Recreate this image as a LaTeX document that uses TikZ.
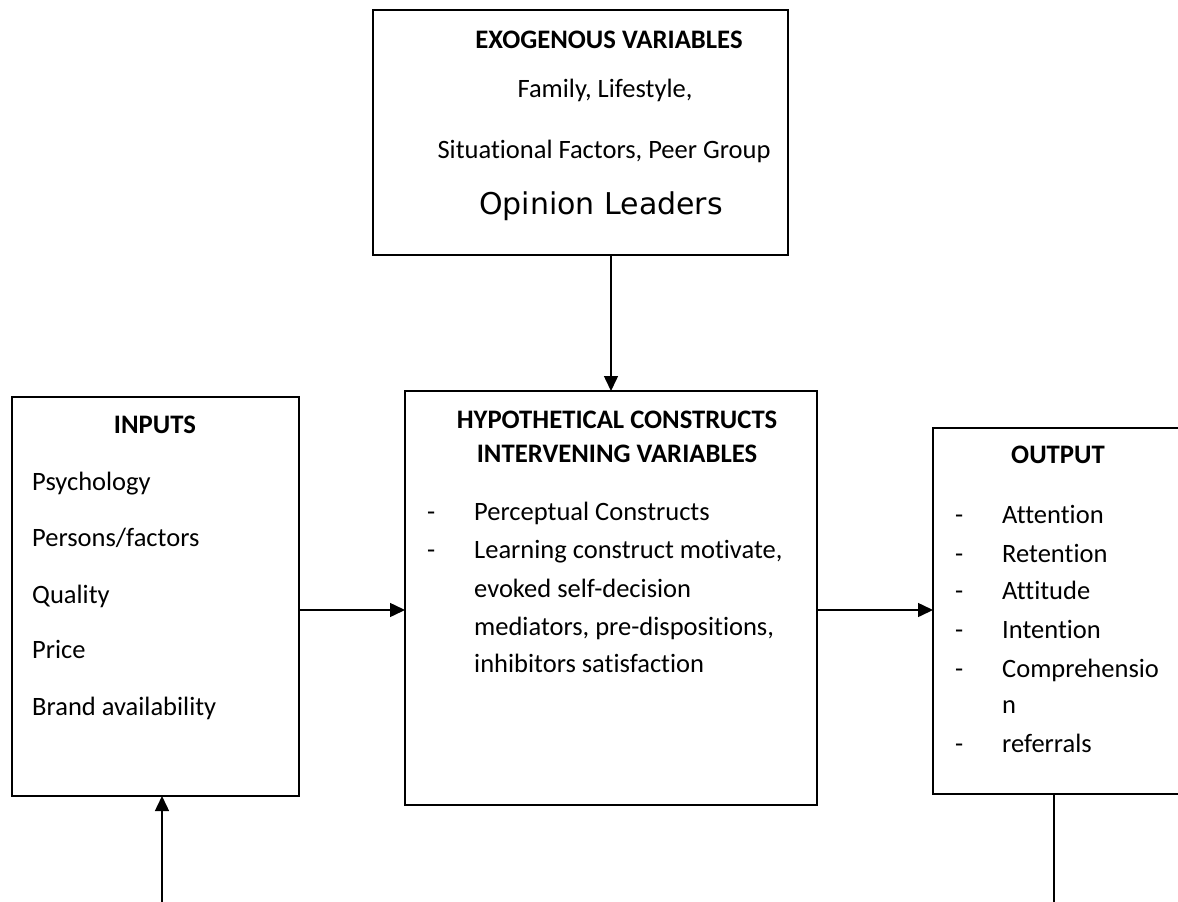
\documentclass[tikz,border=0pt]{standalone}
\usepackage{fontspec}
\setmainfont[Ligatures=NoCommon]{Carlito}
\newfontfamily\tahomafont{DejaVu Sans}
\usetikzlibrary{arrows.meta}
\begin{document}
\begin{tikzpicture}[x=1pt,y=-1pt,
  box/.style={draw, line width=1.5pt, inner sep=0pt, outer sep=0pt},
  txt/.style={font=\fontsize{26.5}{31}\selectfont, inner sep=0pt, anchor=base west},
  ctxt/.style={font=\fontsize{26.5}{31}\selectfont, inner sep=0pt, anchor=base},
  ttl/.style={font=\fontsize{26.7}{31}\selectfont\bfseries, inner sep=0pt, anchor=base},
  arr/.style={line width=1.5pt, -{Triangle[length=15pt,width=14pt]}},
  ln/.style={line width=1.5pt}]
\useasboundingbox (0,0) rectangle (1178,902);
\clip (0,0) rectangle (1178,902);

% boxes
\node[box, minimum width=415pt, minimum height=245pt] (exo) at (580.5,132.5) {};
\node[box, minimum width=412pt, minimum height=414pt] (mid) at (611,598) {};
\node[box, minimum width=287pt, minimum height=399pt] (inputs) at (155.5,596.5) {};
\node[box, minimum width=267pt, minimum height=366pt] (output) at (1066.5,611) {};

% exogenous texts
\node[ttl] (exoT) at (609,48) {EXOGENOUS VARIABLES};
\node[ctxt] (exo1) at (605,97) {Family, Lifestyle,};
\node[ctxt] (exo2) at (604,158) {Situational Factors, Peer Group};
\node[ctxt, font=\fontsize{30}{36}\selectfont\tahomafont] (exo3) at (601,214) {Opinion Leaders};

% inputs texts
\node[ttl] (inT) at (155,433) {INPUTS};
\node[txt] (in1) at (32,490) {Psychology};
\node[txt] (in2) at (32,546) {Persons/factors};
\node[txt] (in3) at (32,603) {Quality};
\node[txt] (in4) at (32,658) {Price};
\node[txt] (in5) at (32,715) {Brand availability};

% middle texts
\node[ttl] (midT1) at (617,428) {HYPOTHETICAL CONSTRUCTS};
\node[ttl] (midT2) at (617,462) {INTERVENING VARIABLES};
\node[txt] (md1) at (427,520) {-};
\node[txt] (md2) at (427,558) {-};
\node[txt] (m1) at (474,520) {Perceptual Constructs};
\node[txt] (m2) at (474,558) {Learning construct motivate,};
\node[txt] (m3) at (474,597) {evoked self-decision};
\node[txt] (m4) at (474,635) {mediators, pre-dispositions,};
\node[txt] (m5) at (474,672) {inhibitors satisfaction};

% output texts
\node[ttl] (outT) at (1058,463) {OUTPUT};
\foreach \y [count=\i] in {523,562,599,638,677,752}
  \node[txt] (od\i) at (955,\y) {-};
\node[txt] (o1) at (1002,523) {Attention};
\node[txt] (o2) at (1002,562) {Retention};
\node[txt] (o3) at (1002,599) {Attitude};
\node[txt] (o4) at (1002,638) {Intention};
\node[txt] (o5) at (1002,677) {Comprehensio};
\node[txt] (o6) at (1002,713) {n};
\node[txt] (o7) at (1002,752) {referrals};

% connectors
\draw[arr] (mid.north |- exo.south) -- (mid.north);
\coordinate (r1) at (0,610);
\draw[arr] (inputs.east |- r1) -- (mid.west |- r1);
\draw[arr] (mid.east |- r1) -- (output.west |- r1);
\coordinate (b1) at (162,902);
\draw[arr] (b1) -- (b1 |- inputs.south);
\coordinate (b2) at (1054,902);
\draw[ln] (b2 |- output.south) -- (b2);
\end{tikzpicture}
\end{document}
